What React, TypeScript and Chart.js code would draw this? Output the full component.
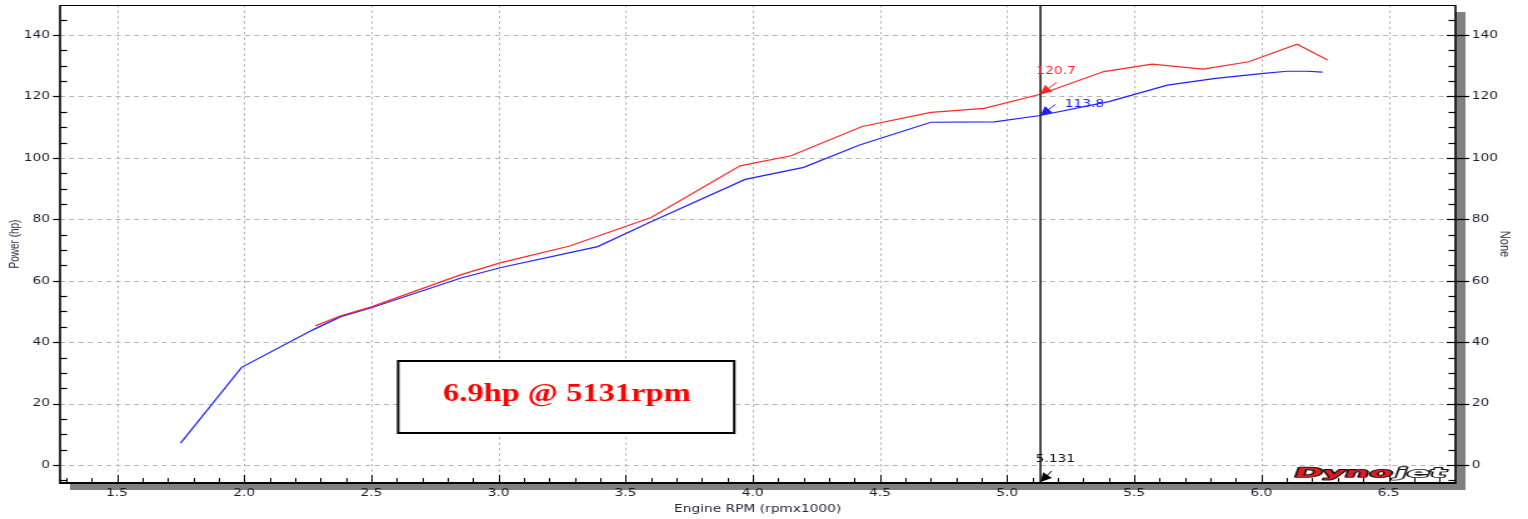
import React, { useEffect, useRef } from 'react';
import { Chart, registerables } from 'chart.js';

Chart.register(...registerables);

// ---------- data ----------
const rpmRed = [2.28, 2.38, 2.50, 2.85, 3.01, 3.28, 3.60, 3.95, 4.15, 4.43, 4.70, 4.91, 5.13, 5.38, 5.57, 5.77, 5.95, 6.14, 6.26];
const hpRed = [45.3, 48.6, 51.5, 61.9, 65.9, 71.3, 80.6, 97.4, 100.7, 110.2, 114.8, 116.1, 120.7, 128.1, 130.5, 128.9, 131.3, 137.0, 131.9];

const rpmBlue = [1.75, 1.99, 2.27, 2.38, 2.50, 2.85, 3.01, 3.39, 3.60, 3.97, 4.20, 4.42, 4.70, 4.95, 5.13, 5.40, 5.63, 5.82, 6.01, 6.10, 6.18, 6.24];
const hpBlue = [7.1, 31.8, 44.0, 48.3, 51.2, 60.8, 64.3, 71.1, 79.2, 93.0, 96.9, 104.2, 111.6, 111.7, 113.8, 118.3, 123.7, 125.9, 127.5, 128.2, 128.2, 127.9];

const xTickValues = [1.5, 2.0, 2.5, 3.0, 3.5, 4.0, 4.5, 5.0, 5.5, 6.0, 6.5];
const yTickValues = [0, 20, 40, 60, 80, 100, 120, 140];

const cursorRpm = 5.131;
const cursorRedHp = 120.7;
const cursorBlueHp = 113.8;
const cursorLabel = '5.131';
const peakNote = '6.9hp @ 5131rpm';

const xTitle = 'Engine RPM (rpmx1000)';
const yTitle = 'Power (hp)';
const y2Title = 'None';

// ---------- layout ----------
const W = 1528;
const H = 519;
const SX = 1.25; // horizontal stretch of the reference
const IW = Math.round(W / SX);

const RED = '#ff2626';
const BLUE = '#2020ff';
const TICK_FONT = { family: '"DejaVu Sans", Verdana, sans-serif', size: 11 };
const TICK_COLOR = '#1c1c30';
const TITLE_FONT = { family: '"Liberation Sans", Arial, sans-serif', size: 10 };
const TITLE_COLOR = '#28283e';

function line(ctx: CanvasRenderingContext2D, x0: number, y0: number, x1: number, y1: number) {
  ctx.beginPath();
  ctx.moveTo(x0, y0);
  ctx.lineTo(x1, y1);
  ctx.stroke();
}

function arrow(ctx: CanvasRenderingContext2D, x0: number, y0: number, x1: number, y1: number, color: string) {
  ctx.save();
  ctx.strokeStyle = color;
  ctx.fillStyle = color;
  ctx.lineWidth = 1;
  line(ctx, x0, y0, x1, y1);
  const ang = Math.atan2(y1 - y0, x1 - x0);
  const L = 9;
  const Wd = 4.5;
  const c = Math.cos(ang);
  const s = Math.sin(ang);
  ctx.beginPath();
  ctx.moveTo(x1, y1);
  ctx.lineTo(x1 - L * c + Wd * s, y1 - L * s - Wd * c);
  ctx.lineTo(x1 - L * c - Wd * s, y1 - L * s + Wd * c);
  ctx.closePath();
  ctx.fill();
  ctx.restore();
}

const decoPlugin = {
  id: 'deco',
  beforeDraw(chart: any) {
    const { ctx, chartArea: a } = chart;
    const xs = chart.scales.x;
    const ys = chart.scales.y;
    ctx.save();
    ctx.fillStyle = '#ffffff';
    ctx.fillRect(0, 0, chart.width, chart.height);
    // drop shadow of the plot panel
    ctx.fillStyle = '#808080';
    ctx.fillRect(a.left + 8, a.top + 7, a.right - a.left, a.bottom - a.top);
    ctx.fillStyle = '#ffffff';
    ctx.fillRect(a.left, a.top, a.right - a.left, a.bottom - a.top);
    // grid
    ctx.strokeStyle = '#b4b4b4';
    ctx.lineWidth = 1;
    ctx.setLineDash([2.4, 3]);
    for (const v of xTickValues) {
      const px = Math.round(xs.getPixelForValue(v)) + 0.5;
      line(ctx, px, a.top, px, a.bottom);
    }
    ctx.setLineDash([4, 3.4]);
    for (const v of yTickValues) {
      const py = Math.round(ys.getPixelForValue(v)) + 0.5;
      line(ctx, a.left, py, a.right, py);
    }
    ctx.restore();
  },
  afterDatasetsDraw(chart: any) {
    const { ctx, chartArea: a } = chart;
    const xs = chart.scales.x;
    const ys = chart.scales.y;
    ctx.save();
    ctx.setLineDash([]);
    ctx.strokeStyle = '#000';

    // panel border
    ctx.lineWidth = 1;
    line(ctx, a.left, a.top + 0.5, a.right, a.top + 0.5);
    ctx.lineWidth = 1.6;
    line(ctx, a.left, a.top, a.left, a.bottom + 1);
    line(ctx, a.right, a.top, a.right, a.bottom + 1);
    ctx.lineWidth = 2;
    line(ctx, a.left, a.bottom, a.right, a.bottom);

    // x-axis ticks (every 0.1, taller every 0.5)
    ctx.lineWidth = 1;
    for (let i = 13; i <= 67; i++) {
      const px = Math.round(xs.getPixelForValue(i / 10)) + 0.5;
      const len = i % 5 === 0 ? 8 : 5;
      line(ctx, px, a.bottom, px, a.bottom - len);
    }
    // y-axis ticks (every 5, major every 20)
    ctx.lineWidth = 1.2;
    for (let v = -5; v <= 145; v += 5) {
      const py = Math.round(ys.getPixelForValue(v)) + 0.5;
      if (v % 20 === 0) {
        line(ctx, a.left - 5.6, py, a.left, py);
        line(ctx, a.right - 7, py, a.right + 11, py);
      } else {
        line(ctx, a.left, py, a.left + 5.6, py);
        line(ctx, a.right - 5.6, py, a.right, py);
      }
    }

    // cursor
    const cx = xs.getPixelForValue(cursorRpm);
    ctx.lineWidth = 1.4;
    line(ctx, cx, a.top, cx, a.bottom);

    const pyR = ys.getPixelForValue(cursorRedHp);
    const pyB = ys.getPixelForValue(cursorBlueHp);
    ctx.font = '11px "DejaVu Sans", Verdana, sans-serif';
    ctx.textBaseline = 'middle';

    ctx.fillStyle = RED;
    ctx.textAlign = 'center';
    ctx.fillText(cursorRedHp.toFixed(1), cx + 12.5, pyR - 23);
    arrow(ctx, cx + 13, pyR - 12, cx, pyR, RED);

    ctx.fillStyle = BLUE;
    ctx.textAlign = 'left';
    ctx.fillText(cursorBlueHp.toFixed(1), cx + 19.5, pyB - 11.5);
    arrow(ctx, cx + 12, pyB - 11, cx, pyB, BLUE);

    ctx.fillStyle = '#111';
    ctx.textAlign = 'center';
    ctx.fillText(cursorLabel, cx + 12, a.bottom - 24);
    arrow(ctx, cx + 9, a.bottom - 12, cx, a.bottom - 1, '#000');

    // note box
    const bx = 318.4;
    const by = 361;
    const bw = 268.8;
    const bh = 72;
    ctx.fillStyle = '#fff';
    ctx.fillRect(bx, by, bw, bh);
    ctx.lineWidth = 2;
    ctx.strokeStyle = '#000';
    ctx.strokeRect(bx, by, bw, bh);
    ctx.fillStyle = '#ff0000';
    ctx.font = 'bold 26px "Liberation Serif", "Times New Roman", serif';
    ctx.textAlign = 'center';
    ctx.textBaseline = 'alphabetic';
    ctx.fillText(peakNote, bx + bw / 2 + 0.5, 401);

    // Dynojet logo
    ctx.save();
    ctx.translate(a.right - 130, a.bottom - 6);
    ctx.transform(1, 0, -0.3, 1, 0, 0);
    ctx.scale(2.1, 1);
    ctx.font = 'bold 13px "DejaVu Sans", sans-serif';
    ctx.textAlign = 'left';
    ctx.textBaseline = 'alphabetic';
    ctx.lineJoin = 'round';
    ctx.lineWidth = 1.6;
    ctx.strokeStyle = '#111';
    ctx.fillStyle = '#d81e1e';
    ctx.strokeText('Dyno', 0, 0);
    ctx.fillText('Dyno', 0, 0);
    const w = ctx.measureText('Dyno').width;
    ctx.fillStyle = '#ffffff';
    ctx.strokeText('jet', w + 1, 0);
    ctx.fillText('jet', w + 1, 0);
    ctx.restore();

    ctx.restore();
  },
};

export default function App() {
  const ref = useRef<HTMLCanvasElement | null>(null);

  useEffect(() => {
    const canvas = ref.current;
    if (!canvas) return;
    const chart = new Chart(canvas, {
      type: 'line',
      data: {
        datasets: [
          {
            label: 'Run 2',
            data: rpmRed.map((x, i) => ({ x, y: hpRed[i] })),
            borderColor: RED,
            borderWidth: 1.2,
            pointRadius: 0,
            tension: 0,
            fill: false,
            yAxisID: 'y',
          },
          {
            label: 'Run 1',
            data: rpmBlue.map((x, i) => ({ x, y: hpBlue[i] })),
            borderColor: BLUE,
            borderWidth: 1.2,
            pointRadius: 0,
            tension: 0,
            fill: false,
            yAxisID: 'y',
          },
        ],
      },
      options: {
        animation: false,
        responsive: false,
        devicePixelRatio: 1,
        events: [],
        layout: { padding: { top: 5, left: 0, right: 0, bottom: 0 } },
        plugins: {
          legend: { display: false },
          tooltip: { enabled: false },
        },
        scales: {
          x: {
            type: 'linear',
            position: 'bottom',
            min: 1.276,
            max: 6.763,
            afterBuildTicks: (s: any) => {
              s.ticks = xTickValues.map((v) => ({ value: v }));
            },
            afterFit: (s: any) => {
              s.height = 36;
              s.paddingLeft = 0;
              s.paddingRight = 0;
            },
            ticks: {
              callback: (v: any) => Number(v).toFixed(1),
              font: TICK_FONT,
              color: TICK_COLOR,
              padding: 4,
              maxRotation: 0,
              minRotation: 0,
              autoSkip: false,
            },
            grid: { display: false, drawTicks: false },
            border: { display: false },
            title: {
              display: true,
              text: xTitle,
              font: { family: '"DejaVu Sans", Verdana, sans-serif', size: 11 },
              color: TITLE_COLOR,
              padding: { top: 0, bottom: 3 },
            },
          },
          y: {
            type: 'linear',
            position: 'left',
            min: -5.86,
            max: 149.77,
            afterBuildTicks: (s: any) => {
              s.ticks = yTickValues.map((v) => ({ value: v }));
            },
            afterFit: (s: any) => {
              s.width = 48;
              s.paddingTop = 0;
              s.paddingBottom = 0;
            },
            ticks: {
              font: TICK_FONT,
              color: TICK_COLOR,
              padding: 8,
              autoSkip: false,
            },
            grid: { display: false, drawTicks: false },
            border: { display: false },
            title: {
              display: true,
              text: yTitle,
              font: TITLE_FONT,
              color: TITLE_COLOR,
              padding: { top: 6, bottom: 0 },
            },
          },
          y2: {
            type: 'linear',
            position: 'right',
            min: -5.86,
            max: 149.77,
            afterBuildTicks: (s: any) => {
              s.ticks = yTickValues.map((v) => ({ value: v }));
            },
            afterFit: (s: any) => {
              s.width = IW - 1164;
              s.paddingTop = 0;
              s.paddingBottom = 0;
            },
            ticks: {
              font: TICK_FONT,
              color: TICK_COLOR,
              padding: 13,
              autoSkip: false,
            },
            grid: { display: false, drawTicks: false },
            border: { display: false },
            title: {
              display: true,
              text: y2Title,
              font: { family: '"Liberation Sans", Arial, sans-serif', size: 11 },
              color: TITLE_COLOR,
              padding: { top: 12, bottom: 0 },
            },
          },
        },
      } as any,
      plugins: [decoPlugin],
    });
    return () => chart.destroy();
  }, []);

  return (
    <div style={{ position: 'fixed', left: 0, top: 0, width: W, height: H, background: '#fff' }}>
      <canvas
        ref={ref}
        width={IW}
        height={H}
        style={{ width: `${W}px`, height: `${H}px`, display: 'block' }}
      />
    </div>
  );
}
